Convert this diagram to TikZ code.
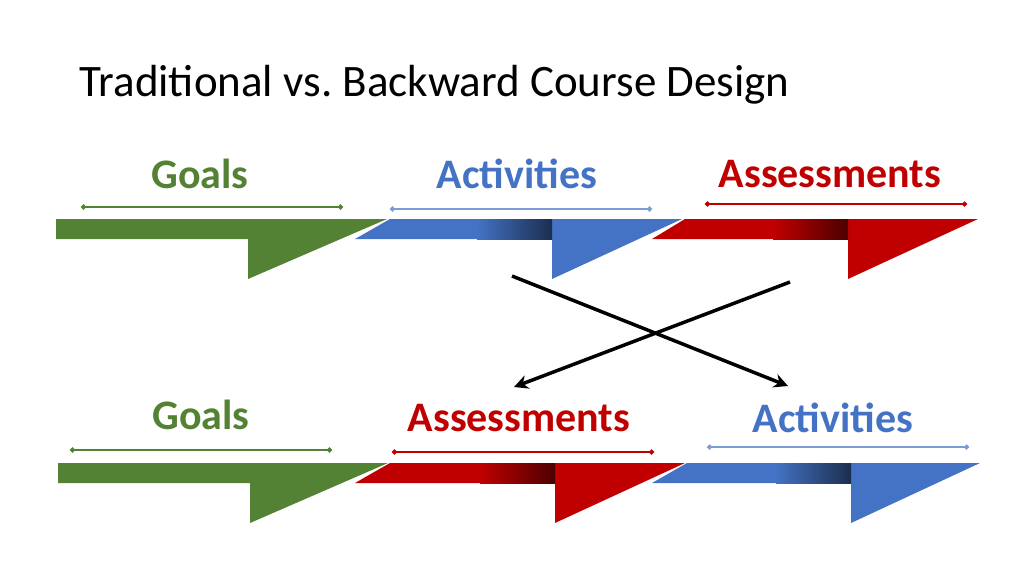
\documentclass[tikz,border=0pt]{standalone}
\usepackage{fontspec}
\setmainfont{Carlito}
\usepackage{xcolor}
\definecolor{goalGreen}{HTML}{548235}
\definecolor{actBlue}{HTML}{4472C4}
\definecolor{assRed}{HTML}{C00000}
\usetikzlibrary{arrows.meta,positioning}
\frenchspacing
\tikzset{
    steplabel/.style={
        font=\fontsize{42}{46}\selectfont\bfseries,
        anchor=center
    },
    bracket/.style={
        line width=1.3pt,
        {Circle[length=5pt]}-{Circle[length=5pt]}
    },
    swaparrow/.style={
        -{Stealth[length=14pt,width=14pt]},
        line width=3.5pt,
        color=black
    }
}
% #1 colour, #2 band left bottom, #3 band left top, #4 triangle x, #5 tip, #6 band top
\newcommand{\chevronband}[6]{%
    \fill[#1] (#2,#6+20) -- (#3,#6) -- (#5,#6) -- (#4,#6+60) -- (#4,#6+20) -- cycle;
}
\newcommand{\bandshade}[3]{%
    \shade[left color=#1, right color=#1!40!black] (#2-75,#3) rectangle (#2,#3+20);
}
\begin{document}
\begin{tikzpicture}[x=1pt,y=-1pt]
    \useasboundingbox (0,0) rectangle (1024,576);
    \node[anchor=west, font=\fontsize{45}{49}\selectfont] (title) at (76,85) {Traditional vs. Backward Course Design};

    % traditional row
    \node[steplabel, goalGreen] (goalsA) at (200,174) {Goals};
    \node[steplabel, actBlue] (actA) at (517,174) {Activities};
    \node[steplabel, assRed] (assA) at (830,174) {Assessments};
    \draw[bracket, goalGreen] (81,207) -- (343,207);
    \draw[bracket, actBlue!70] (390,209) -- (652,209);
    \draw[bracket, assRed] (705,204) -- (967,204);
    \chevronband{goalGreen}{56}{56}{248}{387}{219}
    \chevronband{actBlue}{355}{390}{552}{682}{219}
    \bandshade{actBlue}{552}{219}
    \chevronband{assRed}{652}{685}{848}{978}{219}
    \bandshade{assRed}{848}{219}

    % backward row
    \node[steplabel, goalGreen] (goalsB) at (201,415) {Goals};
    \node[steplabel, assRed] (assB) at (519,418) {Assessments};
    \node[steplabel, actBlue] (actB) at (833,418) {Activities};
    \draw[bracket, goalGreen] (70,450) -- (332,450);
    \draw[bracket, assRed] (392,452) -- (654,452);
    \draw[bracket, actBlue!70] (707,447) -- (969,447);
    \chevronband{goalGreen}{58}{58}{250}{388}{463}
    \chevronband{assRed}{355}{390}{555}{685}{463}
    \bandshade{assRed}{555}{463}
    \chevronband{actBlue}{652}{687}{851}{980}{463}
    \bandshade{actBlue}{851}{463}

    % swap arrows
    \coordinate (actFrom) at (512,276);
    \coordinate (actTo) at (788,386);
    \coordinate (assFrom) at (790,282);
    \coordinate (assTo) at (514,387);
    \draw[swaparrow] (actFrom) -- (actTo);
    \draw[swaparrow] (assFrom) -- (assTo);
\end{tikzpicture}
\end{document}
